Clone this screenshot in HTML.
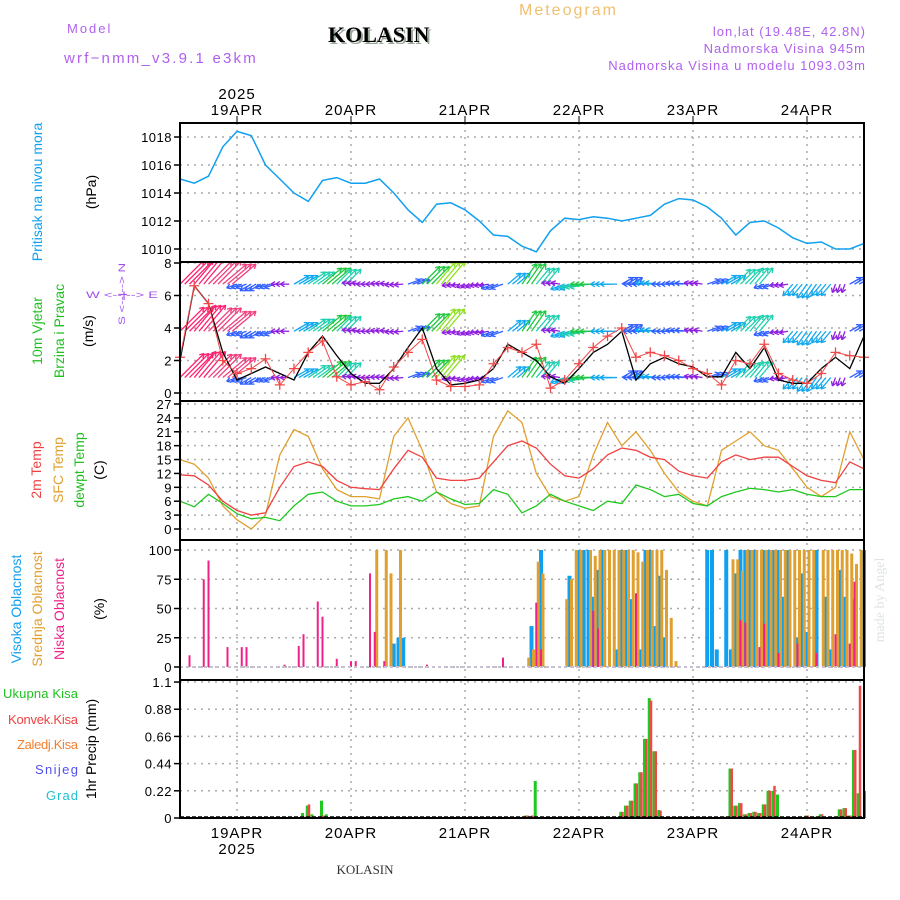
<!DOCTYPE html>
<html><head><meta charset="utf-8"><title>Meteogram KOLASIN</title>
<style>
html,body{margin:0;padding:0;background:#fff;}
svg{display:block;font-family:"Liberation Sans",sans-serif;}
</style></head>
<body>
<svg id="chart" width="900" height="900" viewBox="0 0 900 900" xmlns="http://www.w3.org/2000/svg">
<rect x="0" y="0" width="900" height="900" fill="#fff"/>
<text x="67" y="33" font-size="13" fill="#b060ee" letter-spacing="2">Model</text>
<text x="64" y="63" font-size="15" fill="#b060ee" letter-spacing="2.2">wrf−nmm_v3.9.1 e3km</text>
<text x="330" y="44" font-size="22" font-weight="bold" font-family="Liberation Serif,serif" fill="#9aa89a">KOLASIN</text>
<text x="328" y="42" font-size="22" font-weight="bold" font-family="Liberation Serif,serif" fill="#000">KOLASIN</text>
<text x="519" y="15" font-size="16" fill="#f0c070" letter-spacing="2">Meteogram</text>
<text x="866" y="36" font-size="13" fill="#b060ee" text-anchor="end" letter-spacing="1">lon,lat (19.48E, 42.8N)</text>
<text x="866" y="53" font-size="13" fill="#b060ee" text-anchor="end" letter-spacing="1">Nadmorska Visina 945m</text>
<text x="866" y="70" font-size="13" fill="#b060ee" text-anchor="end" letter-spacing="1">Nadmorska Visina u modelu 1093.03m</text>
<text x="237" y="99" font-size="15" text-anchor="middle" letter-spacing="1">2025</text>
<text x="237" y="854" font-size="15" text-anchor="middle" letter-spacing="1">2025</text>
<text x="365" y="874" font-size="13" text-anchor="middle" font-family="Liberation Serif,serif" fill="#333">KOLASIN</text>
<text transform="translate(884,600) rotate(-90)" font-size="14" text-anchor="middle" font-family="Liberation Serif,serif" fill="#dde6dd">made by Angel</text>

<text transform="translate(42,192) rotate(-90)" font-size="14" fill="#10a0f0" text-anchor="middle">Pritisak na nivou mora</text>
<text transform="translate(96,192) rotate(-90)" font-size="14" fill="#000" text-anchor="middle">(hPa)</text>
<text transform="translate(42,331) rotate(-90)" font-size="14" fill="#20c020" text-anchor="middle">10m Vjetar</text>
<text transform="translate(64,331) rotate(-90)" font-size="14" fill="#20c020" text-anchor="middle">Brzina i Pravac</text>
<text transform="translate(93,331) rotate(-90)" font-size="14" fill="#000" text-anchor="middle">(m/s)</text>
<g fill="#a050f0" font-size="9">
<text x="122" y="298" text-anchor="middle" textLength="72" lengthAdjust="spacingAndGlyphs">W &lt;--|--&gt; E</text>
<text transform="translate(125,294) rotate(-90)" text-anchor="middle" textLength="62" lengthAdjust="spacingAndGlyphs">S &lt;--|--&gt; N</text>
</g>
<text transform="translate(41,470) rotate(-90)" font-size="14" fill="#f04040" text-anchor="middle">2m Temp</text>
<text transform="translate(63,470) rotate(-90)" font-size="14" fill="#e0a030" text-anchor="middle">SFC Temp</text>
<text transform="translate(84,470) rotate(-90)" font-size="14" fill="#20c020" text-anchor="middle">dewpt Temp</text>
<text transform="translate(104,470) rotate(-90)" font-size="14" fill="#000" text-anchor="middle">(C)</text>
<text transform="translate(21,609) rotate(-90)" font-size="14" fill="#10a0f0" text-anchor="middle">Visoka Oblacnost</text>
<text transform="translate(42,609) rotate(-90)" font-size="14" fill="#e0a030" text-anchor="middle">Srednja Oblacnost</text>
<text transform="translate(64,609) rotate(-90)" font-size="14" fill="#f0208a" text-anchor="middle">Niska Oblacnost</text>
<text transform="translate(104,609) rotate(-90)" font-size="14" fill="#000" text-anchor="middle">(%)</text>
<text transform="translate(96,749) rotate(-90)" font-size="14" fill="#000" text-anchor="middle">1hr Precip (mm)</text>
<text x="3" y="698" font-size="13" fill="#20c020" textLength="75" lengthAdjust="spacing">Ukupna Kisa</text>
<text x="8" y="724" font-size="13" fill="#f04040" textLength="70" lengthAdjust="spacing">Konvek.Kisa</text>
<text x="17" y="749" font-size="13" fill="#f08030" textLength="61" lengthAdjust="spacing">Zaledj.Kisa</text>
<text x="35" y="774" font-size="13" fill="#5050f0" textLength="43" lengthAdjust="spacing">Snijeg</text>
<text x="46" y="800" font-size="13" fill="#20c0d0" textLength="32" lengthAdjust="spacing">Grad</text>
<g id="plot"></g>
</svg>
<script>
const dayLabels = ["19APR","20APR","21APR","22APR","23APR","24APR"];
const dayHours = [12,36,60,84,108,132];
const pressTicks = [1010,1012,1014,1016,1018];
const windTicks = [0,2,4,6,8];
const tempTicks = [0,3,6,9,12,15,18,21,24,27];
const cloudTicks = [0,25,50,75,100];
const precipTicks = [0,0.22,0.44,0.66,0.88,1.1];
const precipTickLabels = ["0","0.22","0.44","0.66","0.88","1.1"];
const pressure = [1015,1014.7,1015.2,1017.3,1018.4,1018.1,1016,1015,1014,1013.4,1014.9,1015.1,1014.7,1014.7,1015,1014,1012.8,1011.9,1013.2,1013.3,1012.8,1012,1011,1010.9,1010.2,1009.8,1011.3,1012.2,1012.1,1012.3,1012.2,1012,1012.2,1012.4,1013.2,1013.6,1013.5,1013,1012.2,1011,1011.9,1012,1011.5,1010.8,1010.4,1010.5,1010,1010,1010.4];
const windSpeed = [2,6.6,5.5,2.5,0.8,1.2,1.6,1.2,0.8,2.5,3.5,2.3,1.2,0.6,0.6,1.5,2.8,4,1.5,0.5,0.6,0.8,1.5,3,2.5,2,1,0.6,1.5,2.5,3,3.8,0.8,1.8,2.2,1.8,1.6,1,1,2.5,1.5,2.8,0.8,0.6,0.6,1.5,2.2,1.5,3.5];
const windGust = [2.2,6.6,5.5,2,1.2,1.5,2.1,0.5,1.5,2.5,3.2,1,0.5,0.7,0.2,1.6,2.5,3.3,0.8,0.4,0.4,0.5,1.8,2.8,2.5,3,0.3,0.8,1.8,2.8,3.5,4,2.2,2.5,2.3,2,1.5,1.2,0.5,2,1.8,3,1.2,0.8,0.6,1.2,2.5,2.3,2.2];
const arrowSpeed = [8,8,7,6.5,1.5,2,1.5,1,3,4,5,4,1,1,1,1,2,5,6,1,1,1.2,2,3,5,4,1,2.5,3.5,4.5,3,2,2,2.5,2,2,1,2,3,4,4,1.5,1,2.5,3,2.5,1,2,4.5];
const arrowDir = [45,50,45,40,200,210,200,180,30,35,40,45,170,180,175,185,20,45,50,190,200,190,200,40,55,50,170,200,190,180,180,30,180,175,180,175,170,20,30,45,50,200,190,230,235,230,250,30,40];
const windRows = [6.7,3.8,0.95];
const temp2m = [11.7,11.5,9.5,6,4,3,3.5,9,13.5,14.5,13.5,10.5,9,8.7,8.5,13,17,15.5,11,10.5,10.5,11,14.5,18,19,17.5,14,11.5,11,13,16,17.5,17,15.5,15,12.5,11.5,11,14.5,16,15,15.5,15.5,13.5,11.5,10.5,10,14.5,13];
const tempSfc = [15,14,11,5,2,0,3,16,21.5,20,13,8.5,7,7,6.5,20,24,17,8,5.5,4.5,5,20,25.5,23,12,7,6,7,16,23,18,21,17,12,8,6,5,17,19,21,18,17,13,9,7,9,21,15];
const tempDew = [6,4.8,7.5,5.5,3.3,2.2,2.5,1.8,5,7.5,8,6,5,5,5.3,6.5,7,6,8,6.5,5.3,5.5,8.5,7.5,3.5,5,7.5,6,5,4,6,5.5,9.5,8.5,7,7.5,5.5,5,7,8,8.8,8.5,8,8.5,7.5,7,7,8.5,8.5];
const cloudHighHours = [45,46,47,74,76,82,84,85,86,87,88,89,92,93,94,95,97,98,99,100,101,102,111,112,113,115,116,117,118,119,120,121,123,124,125,126,127,128,130,131,132,134,136,137,139,140,142,144];
const cloudHighVals  = [20,25,25,35,100,78,100,100,100,60,83,100,15,100,100,58,15,100,100,35,78,25,100,100,15,100,15,80,100,100,100,100,100,100,100,100,60,100,25,80,30,100,60,15,83,60,58,100];
const cloudMidHours = [41,43,44,46,73,74,75,76,81,82,83,84,86,87,88,89,90,91,92,93,94,95,96,97,98,99,100,101,102,103,104,116,117,118,119,120,121,122,123,124,125,126,127,128,129,130,131,132,133,135,136,137,138,139,140,141,142,143];
const cloudMidVals  = [100,100,80,100,8,15,90,80,58,75,100,100,100,95,100,100,100,100,100,100,100,100,98,90,100,100,100,100,83,42,5,92,92,82,100,100,100,100,100,100,100,100,100,100,100,100,100,100,100,100,100,100,100,100,100,97,88,100];
const cloudLowHours = [2,5,6,10,13,14,22,25,26,29,30,33,36,37,40,41,43,52,68,75,76,87,88,96,118,119,122,123,126,130,134,138,141,142];
const cloudLowVals  = [10,75,91,17,17,17,2,18,28,56,43,7,5,5,80,30,5,2,8,55,15,48,33,63,40,38,17,37,12,20,12,28,20,73];
const precipHours = [26,27,28,30,31,73,74,75,93,94,95,96,97,98,99,100,101,115,116,117,118,119,120,121,122,123,124,125,126,132,133,134,135,139,140,141,142,143,144];
const precipTotal = [0.04,0.1,0.03,0.14,0.03,0.02,0.01,0.3,0.05,0.1,0.14,0.28,0.37,0.64,0.97,0.54,0.065,0.01,0.4,0.1,0.12,0.03,0.04,0.05,0.04,0.11,0.22,0.22,0.19,0.02,0.01,0.01,0.03,0.07,0.08,0.02,0.55,0.2,0];
const precipConv  = [0.01,0.11,0.0,0.02,0.0,0.02,0.02,0.0,0.05,0.1,0.14,0.28,0.37,0.64,0.95,0.54,0.06,0.0,0.4,0.1,0.12,0.03,0.04,0.05,0.04,0.11,0.22,0.26,0.0,0.02,0.01,0.01,0.03,0.07,0.08,0.02,0.55,1.07,0.22];

const X0=180, X1=864, HOURS=144;
const xs = h => X0 + (X1-X0)*h/HOURS;
const panels = {
  press:{top:123,bot:262, y:v=>249-(v-1010)*14},
  wind:{top:262,bot:401, y:v=>393-v*16.25},
  temp:{top:401,bot:540, y:v=>529-v*4.63},
  cloud:{top:540,bot:680, y:v=>667-v*1.17},
  precip:{top:680,bot:818, y:v=>818-v*123.6}
};
const NS="http://www.w3.org/2000/svg";
const plot=document.getElementById('plot');
function mk(tag, attrs, parent){const e=document.createElementNS(NS,tag);for(const k in attrs)e.setAttribute(k,attrs[k]);(parent||plot).appendChild(e);return e;}

const defs=mk('defs',{});
for(const k in panels){const p=panels[k];const c=mk('clipPath',{id:'clip-'+k},defs);mk('rect',{x:X0,y:p.top,width:X1-X0,height:p.bot-p.top},c);}

function yAxis(key, ticks, labels){
  const p=panels[key];
  const g=mk('g',{});
  
  
  ticks.forEach((t,i)=>{
    const y=p.y(t);
    const gl=mk('line',{x1:X0,x2:X1,y1:y,y2:y,stroke:'#aaa','stroke-width':1.5,'stroke-dasharray':'2,5'},g);
    
    
    mk('line',{x1:X0-6,x2:X0,y1:y,y2:y,stroke:'#000','stroke-width':1.5},g);
    const tx=mk('text',{x:X0-8,y:y+5,'font-size':13,'text-anchor':'end','letter-spacing':0.5},g);
    tx.textContent=labels?labels[i]:String(t);
    
    
  });
}
yAxis('press',pressTicks);
yAxis('wind',windTicks);
yAxis('temp',tempTicks);
yAxis('cloud',cloudTicks);
yAxis('precip',precipTicks,precipTickLabels);

dayHours.forEach((h,i)=>{
  const x=xs(h);
  const dl=mk('line',{x1:x,x2:x,y1:123,y2:818,stroke:'#aaa','stroke-width':1.5,'stroke-dasharray':'2,5'});
  
  
  mk('line',{x1:x,x2:x,y1:116,y2:123,stroke:'#000','stroke-width':1});
  const t1=mk('text',{x:x,y:115,'font-size':15,'text-anchor':'middle','letter-spacing':1});
  t1.textContent=dayLabels[i];
  
  
  const t2=mk('text',{x:x,y:838,'font-size':15,'text-anchor':'middle','letter-spacing':1});
  t2.textContent=dayLabels[i];
  
  
});

function line(key, vals, color, name, w){
  const p=panels[key];
  const d=vals.map((v,i)=>(i?'L':'M')+xs(i*3).toFixed(1)+','+p.y(v).toFixed(1)).join('');
  const e=mk('path',{d:d,fill:'none',stroke:color,'stroke-width':w||1.3,'clip-path':'url(#clip-'+key+')'});
  
  
}
line('press',pressure,'#10a0f0','pressure-line',1.5);

function windColor(s){
  if(s<1.5)return '#9020e0'; if(s<2.5)return '#3060ff'; if(s<3.5)return '#10a8f0';
  if(s<4.5)return '#20d0b0'; if(s<5.5)return '#20c840'; if(s<6.5)return '#90e020';
  if(s<7.5)return '#f04080'; return '#ff2070';
}
const wg=mk('g',{'clip-path':'url(#clip-wind)'});


windRows.forEach((row,r)=>{
  const y0=panels.wind.y(row);
  arrowSpeed.forEach((s,i)=>{
    const x0=xs(i*3);
    const L=Math.min(5+4*s,34);
    const a=arrowDir[i]*Math.PI/180;
    const c=windColor(s);
    const ar=mk('g',{stroke:c,'stroke-width':1.3,fill:'none'},wg);
    
    
    for(let k=0;k<3;k++){
      const xo=x0+k*4.75;
      const x1=xo+L*Math.cos(a), y1=y0-L*Math.sin(a);
      mk('line',{x1:xo,y1:y0,x2:x1,y2:y1},ar);
      for(const da of [2.6,-2.6]){
        mk('line',{x1:x1,y1:y1,x2:x1+5*Math.cos(a+da),y2:y1-5*Math.sin(a+da)},ar);
      }
    }
  });
});
line('wind',windSpeed,'#000','wind-speed-line',1.3);
line('wind',windGust,'#f04848','wind-gust-line',1);
const gg=mk('g',{stroke:'#f04848','stroke-width':1.3});


windGust.forEach((v,i)=>{
  const x=xs(i*3), y=panels.wind.y(v);
  mk('path',{d:`M${x-5},${y}H${x+5}M${x},${y-5}V${y+5}`},gg);
});

line('temp',tempSfc,'#e0a030','sfc-temp-line',1.3);
line('temp',temp2m,'#f04040','temp-2m-line',1.3);
line('temp',tempDew,'#20c820','dewpoint-line',1.3);

function bars(hours, vals, color, w, off, name){
  const p=panels.cloud;
  hours.forEach((h,i)=>{
    const y=p.y(vals[i]);
    const b=mk('rect',{x:xs(h)+off,y:y,width:w,height:Math.max(0,p.y(0)-y),fill:color});
    
    
  });
}
bars(cloudHighHours,cloudHighVals,'#10a0f0',4,-2,'cloud-high-bar');
bars(cloudMidHours,cloudMidVals,'#e0a030',3,0.5,'cloud-mid-bar');
bars(cloudLowHours,cloudLowVals,'#f0208a',2,-1,'cloud-low-bar');
const cb=mk('line',{x1:X0,x2:X1,y1:667,y2:667,stroke:'#c8c0d0','stroke-width':2,'stroke-dasharray':'3,3'});



precipHours.forEach((h,i)=>{
  const p=panels.precip, x=xs(h);
  const yt=p.y(precipTotal[i]);
  const gb=mk('rect',{x:x-2.5,y:yt,width:3,height:818-yt,fill:'#20c820'});
  
  
  const yc=p.y(precipConv[i]);
  const rb=mk('rect',{x:x-0.5,y:yc,width:2.5,height:818-yc,fill:'#f04848'});
  
  
});
mk('line',{x1:X0,x2:X1,y1:817,y2:817,stroke:'#000','stroke-width':1.5,'stroke-dasharray':'4,2'});

for(const k in panels){
  const p=panels[k];
  const f=mk('rect',{x:X0,y:p.top,width:X1-X0,height:p.bot-p.top,fill:'none',stroke:'#000','stroke-width':2});
  
  
}
</script>
</body></html>
